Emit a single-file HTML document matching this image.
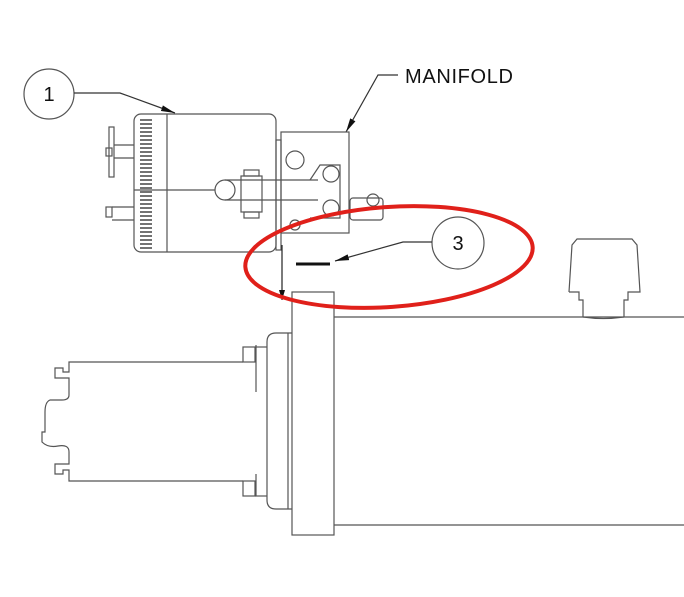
<!DOCTYPE html>
<html><head><meta charset="utf-8"><style>html,body{margin:0;padding:0;background:#fff}svg{display:block}</style></head>
<body>
<svg width="684" height="597" viewBox="0 0 684 597" xmlns="http://www.w3.org/2000/svg">
<defs><marker id="ah" markerWidth="10" markerHeight="6" refX="10" refY="3" orient="auto" markerUnits="userSpaceOnUse"><path d="M0,0 L10,3 L0,6 Z" fill="#111"/></marker>
<marker id="ah2" markerWidth="14" markerHeight="6" refX="14" refY="3" orient="auto" markerUnits="userSpaceOnUse"><path d="M0,0 L14,3 L0,6 Z" fill="#111"/></marker></defs>
<g fill="none" stroke="#555" stroke-width="1.2">
<circle cx="49" cy="94" r="25"/>
<polyline points="74,93 120,93 175,113" stroke="#333" marker-end="url(#ah2)"/>
<polyline points="398,75 378,75 346,132" stroke="#333" marker-end="url(#ah2)"/>
<rect x="134" y="114" width="142" height="138" rx="7"/>
<line x1="167" y1="114" x2="167" y2="252"/>
<line x1="134" y1="190" x2="215" y2="190"/>
<g stroke="#444" stroke-width="1.5">
<path d="M140,120H152M140,124H152M140,128H152M140,132H152M140,136H152M140,140H152M140,144H152M140,148H152M140,152H152M140,156H152M140,160H152M140,164H152M140,168H152M140,172H152M140,176H152M140,180H152M140,184H152M140,188H152M140,192H152M140,196H152M140,200H152M140,204H152M140,208H152M140,212H152M140,216H152M140,220H152M140,224H152M140,228H152M140,232H152M140,236H152M140,240H152M140,244H152M140,248H152"/>
</g>
<rect x="109" y="127" width="5" height="50"/>
<line x1="114" y1="145" x2="134" y2="145"/><line x1="114" y1="158" x2="134" y2="158"/>
<rect x="106" y="148" width="6" height="8"/>
<rect x="106" y="207" width="6" height="10"/>
<line x1="112" y1="207" x2="134" y2="207"/><line x1="112" y1="220" x2="134" y2="220"/>
<circle cx="225" cy="190" r="10"/>
<line x1="225" y1="180" x2="318" y2="180"/><line x1="225" y1="200" x2="318" y2="200"/>
<rect x="241" y="176" width="21" height="36"/>
<rect x="244" y="170" width="15" height="6"/><rect x="244" y="212" width="15" height="6"/>
<rect x="276" y="140" width="5" height="110"/>
<rect x="281" y="132" width="68" height="101"/>
<circle cx="295" cy="160" r="9"/>
<polyline points="310,180 320,165 340,165 340,218 310,218"/>
<circle cx="331" cy="174" r="8"/><circle cx="331" cy="208" r="8"/>
<circle cx="295" cy="225" r="5"/>
<rect x="350" y="198" width="33" height="22" rx="3"/>
<circle cx="373" cy="200" r="6"/>
<line x1="282" y1="245" x2="282" y2="300" stroke="#222" marker-end="url(#ah)"/>
<rect x="292" y="292" width="42" height="243"/>
<polyline points="334,317 684,317"/><polyline points="334,525 684,525"/>
<path d="M569,292 L572,245 L577,239 H632 L637,245 L640,292 H628 V300 H624 V317 M569,292 H579 V300 H583 V317"/>
<path d="M583,317 Q603,320 624,317"/>
<path d="M292,333 H276 Q267,333 267,342 V500 Q267,509 276,509 H292"/>
<line x1="288" y1="333" x2="288" y2="509"/>
<rect x="243" y="347" width="12" height="15"/><rect x="243" y="481" width="12" height="15"/>
<line x1="256" y1="345" x2="256" y2="392"/><line x1="256" y1="474" x2="256" y2="496"/>
<line x1="255" y1="347" x2="267" y2="347"/><line x1="255" y1="496" x2="267" y2="496"/>
<path d="M243,362 H69 V372 H63 V368 H55 V378 H69 V395 Q69,400 62,400 H50 Q45,402 45,412 V432 H42 V442 Q48,448 58,446 Q69,444 69,452 V464 H55 V474 H63 V470 H69 V481 H243"/>
<circle cx="458" cy="243" r="26"/>
<polyline points="432,242 403,242 335,261" stroke="#333" marker-end="url(#ah2)"/>
</g>
<line x1="296" y1="264" x2="330" y2="264" stroke="#111" stroke-width="3"/>
<ellipse cx="389" cy="257" rx="144" ry="50" transform="rotate(-4 389 257)" fill="none" stroke="#e0201a" stroke-width="4"/>
<g font-family="Liberation Sans, Arial, sans-serif" fill="#111">
<text x="49" y="101" font-size="20" text-anchor="middle">1</text>
<text x="458" y="250" font-size="20" text-anchor="middle">3</text>
<text x="405" y="83" font-size="20" textLength="108">MANIFOLD</text>
</g>
</svg>
</body></html>
